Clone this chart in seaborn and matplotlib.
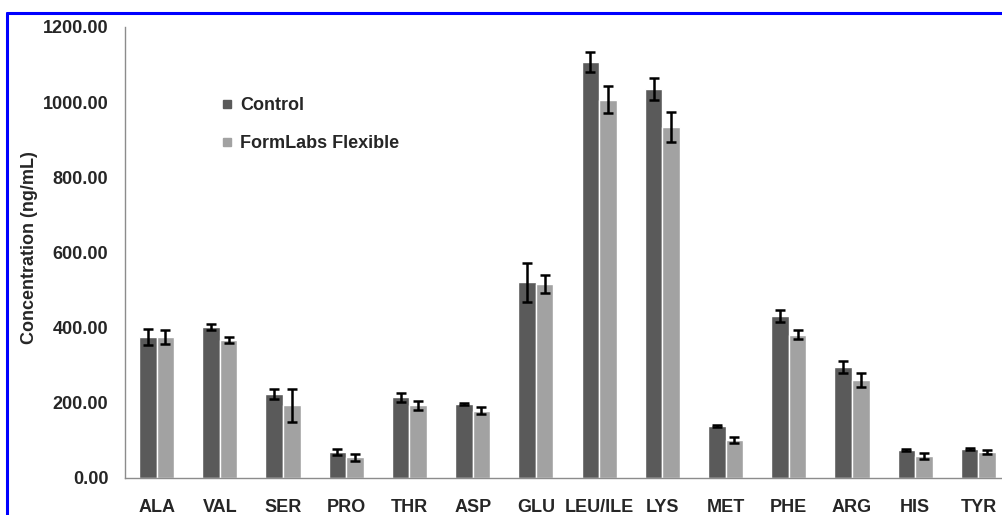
import matplotlib
matplotlib.use('Agg')
import matplotlib.pyplot as plt
from matplotlib.lines import Line2D
from matplotlib.ticker import FixedLocator, FormatStrFormatter
import seaborn as sns
import numpy as np
import pandas as pd

# Values (ng/mL)
amino_acids = ['ALA', 'VAL', 'SER', 'PRO', 'THR', 'ASP', 'GLU',
               'LEU/ILE', 'LYS', 'MET', 'PHE', 'ARG', 'HIS', 'TYR']
control_mean = [375, 402, 224, 69, 215, 197, 521, 1107, 1035, 139, 431, 296, 75, 77]
control_err = [22, 8, 13, 9, 12, 2, 52, 26, 29, 2, 16, 16, 3, 3]
flexible_mean = [375, 367, 194, 55, 193, 179, 516, 1006, 934, 101, 381, 261, 58, 69]
flexible_err = [19, 8, 44, 10, 12, 10, 25, 36, 39, 7, 12, 18, 8, 5]
groups = ['Control', 'FormLabs Flexible']
y_ticks = [0, 200, 400, 600, 800, 1000, 1200]

palette = {'Control': '#5a5a5a', 'FormLabs Flexible': '#a2a2a2'}

# Long-form table for seaborn
df = pd.DataFrame({
    'amino_acid': amino_acids * 2,
    'group': [groups[0]] * len(amino_acids) + [groups[1]] * len(amino_acids),
    'concentration': control_mean + flexible_mean,
})

sns.set_style('white')
plt.rcParams['font.family'] = ['Liberation Sans', 'DejaVu Sans']

fig = plt.figure(figsize=(10.03, 5.15), dpi=100)
# axes run past the right edge, as in the cropped original
ax = fig.add_axes([125 / 1003, 37 / 515, 885 / 1003, 451 / 515])

sns.barplot(data=df, x='amino_acid', y='concentration', hue='group',
            order=amino_acids, hue_order=groups, palette=palette,
            width=0.555, saturation=1, errorbar=None, legend=False, ax=ax)

# Error bars at the bar centres
for container, errs in zip(ax.containers, [control_err, flexible_err]):
    xs = [p.get_x() + p.get_width() / 2 for p in container]
    ys = [p.get_height() for p in container]
    ax.errorbar(xs, ys, yerr=errs, fmt='none', ecolor='black',
                elinewidth=1.8, capsize=3.5, capthick=1.8)

# Axes styling
ax.set_xlim(-0.5, len(amino_acids) - 0.5)
ax.set_ylim(0, 1200)
ax.set_yticks(y_ticks)
ax.yaxis.set_major_formatter(FormatStrFormatter('%.2f'))
for side in ['top', 'right']:
    ax.spines[side].set_visible(False)
for side in ['left', 'bottom']:
    ax.spines[side].set_color('#8c8c8c')
    ax.spines[side].set_linewidth(1.0)

ax.tick_params(axis='y', which='major', direction='out', length=4, width=1,
               color='#8c8c8c', pad=8, labelsize=13)
ax.tick_params(axis='x', which='major', length=0, pad=15, labelsize=13)
ax.xaxis.set_minor_locator(FixedLocator(np.arange(-0.5, len(amino_acids), 1.0)))
ax.tick_params(axis='x', which='minor', direction='out', length=4, width=1,
               color='#8c8c8c')
for lbl in ax.get_xticklabels() + ax.get_yticklabels():
    lbl.set_fontweight('bold')

ax.set_xlabel('')
ax.set_ylabel('Concentration (ng/mL)', fontsize=13, fontweight='bold')
ax.yaxis.set_label_coords(-0.098, 0.51)

# Legend with small square markers
handles = [Line2D([], [], marker='s', linestyle='none', markersize=6,
                  color=palette[g]) for g in groups]
ax.legend(handles, groups, loc='upper left', frameon=False,
          bbox_to_anchor=(213 / 1003, 1 - 88 / 515), bbox_transform=fig.transFigure,
          borderpad=0, handlelength=0.6, handletextpad=0.4, labelspacing=1.17,
          prop={'size': 13, 'weight': 'bold'})

# Blue frame (top and left edges visible in the crop)
fig.add_artist(Line2D([7 / 1003, 7 / 1003], [0, 1 - 13 / 515],
                      transform=fig.transFigure, color='#0000ff', lw=2.2))
fig.add_artist(Line2D([7 / 1003, 1], [1 - 13 / 515, 1 - 13 / 515],
                      transform=fig.transFigure, color='#0000ff', lw=2.2))

fig.savefig('out.png', dpi=100)
